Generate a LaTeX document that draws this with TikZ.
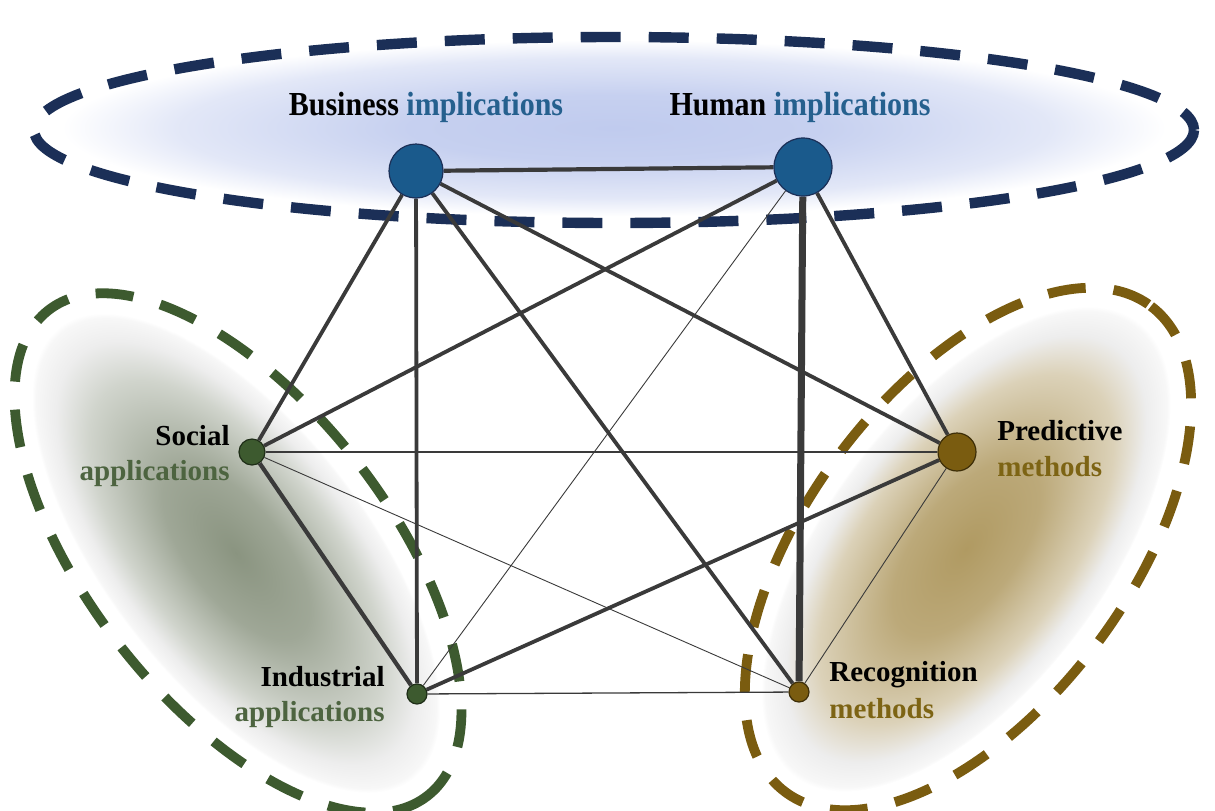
\documentclass[tikz,border=0pt]{standalone}
\usepackage{fontspec}
\setmainfont{Liberation Serif}
\usepackage{graphicx}

\definecolor{edgegray}{HTML}{3A3A3A}
\definecolor{navy}{HTML}{1B2F57}
\definecolor{nodeblue}{HTML}{1A5A8C}
\definecolor{txtblue}{HTML}{25608E}
\definecolor{forest}{HTML}{3D5A2F}
\definecolor{txtgreen}{HTML}{4D6440}
\definecolor{olive}{HTML}{7A5C10}
\definecolor{txtolive}{HTML}{7D6414}
\definecolor{topc}{HTML}{C0CBEE}
\definecolor{greenc}{HTML}{8A9480}
\definecolor{tanc}{HTML}{B09A62}

% soft glows filling the three groups
\pgfdeclareradialshading{topglow}{\pgfpoint{0bp}{0bp}}{%
  color(0bp)=(topc); color(9bp)=(topc!90!white); color(19bp)=(topc!45!white);
  color(24bp)=(white); color(50bp)=(white)}
\pgfdeclareradialshading{greenglow}{\pgfpoint{0bp}{0bp}}{%
  color(0bp)=(greenc); color(9bp)=(greenc!82!white); color(18bp)=(greenc!40!white);
  color(22bp)=(black!7); color(24.5bp)=(black!3); color(25bp)=(white); color(50bp)=(white)}
\pgfdeclareradialshading{tanglow}{\pgfpoint{0bp}{0bp}}{%
  color(0bp)=(tanc); color(9bp)=(tanc!85!white); color(18bp)=(tanc!45!white);
  color(22bp)=(black!7); color(24.5bp)=(black!3); color(25bp)=(white); color(50bp)=(white)}

\pgfdeclarelayer{bg}
\pgfdeclarelayer{edges}
\pgfsetlayers{bg,edges,main}

\begin{document}
\begin{tikzpicture}[x=0.5pt,y=-0.5pt,
  vtx/.style={circle,inner sep=0pt,line width=0.6pt},
  lab/.style={font=\fontsize{14.5}{16}\selectfont\bfseries,inner sep=0pt},
  toplab/.style={font=\fontsize{15}{16}\selectfont\bfseries,inner sep=0pt},
  link/.style={draw=edgegray,line width=1.9pt},
  hair/.style={draw=edgegray,line width=0.45pt},
  groupring/.style={dash pattern=on 19pt off 14pt,line width=4.9pt}]

\useasboundingbox (0,0) rectangle (1215,810);

% vertices
\node[vtx,fill=nodeblue,draw=navy,minimum size=27pt] (B) at (416,171) {};
\node[vtx,fill=nodeblue,draw=navy,minimum size=29pt] (H) at (803,167) {};
\node[vtx,fill=forest,draw=forest!50!black,minimum size=13pt] (S) at (252,452) {};
\node[vtx,fill=olive,draw=olive!50!black,minimum size=19pt] (P) at (957,452) {};
\node[vtx,fill=forest,draw=forest!50!black,minimum size=10pt] (I) at (417,694) {};
\node[vtx,fill=olive,draw=olive!50!black,minimum size=10pt] (R) at (799,692) {};

% labels
\node[toplab,anchor=base] (Blab) at (426,115)
  {\scalebox{1}[1.12]{Business \textcolor{txtblue}{implications}}};
\node[toplab,anchor=base] (Hlab) at (800,115)
  {\scalebox{1}[1.12]{Human \textcolor{txtblue}{implications}}};
\node[lab,anchor=base east] (Slab) at (230,445) {Social};
\node[lab,anchor=base east,text=txtgreen] (Slab2) at (230,480) {applications};
\node[lab,anchor=base east] (Ilab) at (385,686) {Industrial};
\node[lab,anchor=base east,text=txtgreen] (Ilab2) at (385,721) {applications};
\node[lab,anchor=base west] (Plab) at (997,440) {Predictive};
\node[lab,anchor=base west,text=txtolive] (Plab2) at (997,476) {methods};
\node[lab,anchor=base west] (Rlab) at (829,681) {Recognition};
\node[lab,anchor=base west,text=txtolive] (Rlab2) at (829,718) {methods};

% group backgrounds and dashed outlines
\begin{pgfonlayer}{bg}
  \shade[shading=topglow] (614,128) ellipse [x radius=575, y radius=92];
  \begin{scope}[transform canvas={rotate around={-52:(236,553)}}]
    \shade[shading=greenglow] (236,553) ellipse [x radius=287, y radius=130];
  \end{scope}
  \begin{scope}[transform canvas={rotate around={53:(966,549)}}]
    \shade[shading=tanglow] (966,549) ellipse [x radius=285, y radius=140];
  \end{scope}
  \draw[groupring,draw=navy,line width=5.2pt,dash pattern=on 20pt off 14pt]
    (614,130) ellipse [x radius=580, y radius=93];
  \draw[groupring,draw=forest,rotate around={-52:(238,553)}]
    (238,553) ellipse [x radius=308, y radius=150];
  \draw[groupring,draw=olive,rotate around={53:(968,549)}]
    (968,549) ellipse [x radius=304, y radius=160];
\end{pgfonlayer}

% connections
\begin{pgfonlayer}{edges}
  \draw[link,line width=2.1pt] (B) -- (H);
  \draw[link] (B) -- (S);
  \draw[link] (B) -- (I);
  \draw[link] (B) -- (R);
  \draw[link] (B) -- (P);
  \draw[link] (H) -- (S);
  \draw[hair] (H) -- (I);
  \draw[link,line width=3.5pt] (H) -- (R);
  \draw[link] (H) -- (P);
  \draw[link,line width=1.4pt] (S) -- (P);
  \draw[link,line width=2.1pt] (S) -- (I);
  \draw[hair] (S) -- (R);
  \draw[link] (I) -- (P);
  \draw[hair,line width=0.65pt] (I) -- (R);
  \draw[hair] (P) -- (R);
\end{pgfonlayer}
\end{tikzpicture}
\end{document}
